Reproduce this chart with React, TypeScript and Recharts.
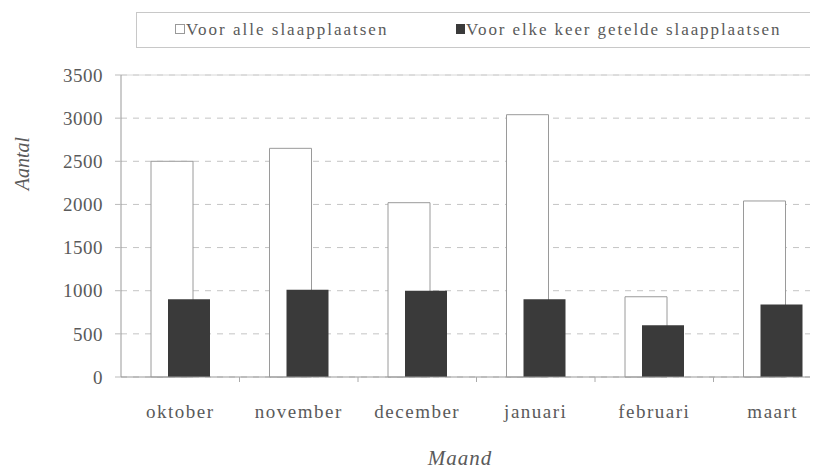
import React from 'react';
import { BarChart, Bar, XAxis, YAxis, CartesianGrid, ReferenceLine } from 'recharts';

const categories = ['oktober', 'november', 'december', 'januari', 'februari', 'maart'];
const alleValues = [2500, 2650, 2020, 3040, 930, 2040];
const elkeValues = [900, 1010, 1000, 900, 600, 840];
const yTicks = [0, 500, 1000, 1500, 2000, 2500, 3000, 3500];
const seriesNames = ['Voor alle slaapplaatsen', 'Voor elke keer getelde slaapplaatsen'];
const xTitle = 'Maand';
const yTitle = 'Aantal';

const data = categories.map((c, i) => ({ name: c, alle: alleValues[i], elke: elkeValues[i] }));

const CHART_W = 840;
const CHART_H = 467;
const Y_W = 113;
const M_RIGHT = 16;
const BAND = (CHART_W - Y_W - M_RIGHT) / categories.length;
const FONT = '"Liberation Serif", "Times New Roman", serif';
const TXT = '#5a5a5a';

const XTick = (props: any) => {
  const { x, y, payload } = props;
  return (
    <g>
      <line x1={x + BAND / 2} x2={x + BAND / 2} y1={y - 8} y2={y - 3} stroke="#aaa" />
      <text x={x} y={y + 33} textAnchor="middle" fontFamily={FONT} fontSize={19} fill={TXT} letterSpacing={1.5}>
        {payload.value}
      </text>
    </g>
  );
};

export default function App() {
  return (
    <div style={{ position: 'relative', width: 810, height: CHART_H, marginBottom: -8, overflow: 'hidden', background: '#fff' }}>
      <BarChart
        width={CHART_W}
        height={CHART_H}
        data={data}
        margin={{ top: 67, right: M_RIGHT, left: 0, bottom: 68 }}
        barGap={-25}
      >
        <CartesianGrid vertical={false} stroke="#c4c4c4" strokeDasharray="6 6" />
        <ReferenceLine y={3500} stroke="#d8d8d8" />
        <XAxis
          dataKey="name"
          height={30}
          axisLine={{ stroke: '#999' }}
          tickLine={false}
          tick={<XTick />}
          interval={0}
        />
        <YAxis
          width={Y_W}
          domain={[0, 3500]}
          ticks={yTicks}
          axisLine={{ stroke: '#999' }}
          tickLine={{ stroke: '#bbb' }}
          tickSize={6}
          tickMargin={12}
          tick={{ fontFamily: FONT, fontSize: 19, fill: TXT, letterSpacing: 0.5 }}
        />
        <Bar dataKey="alle" name={seriesNames[0]} fill="#ffffff" stroke="#9a9a9a" strokeWidth={1} barSize={42} isAnimationActive={false} />
        <Bar dataKey="elke" name={seriesNames[1]} fill="#3a3a3a" barSize={42} isAnimationActive={false} />
      </BarChart>

      <div
        style={{
          position: 'absolute', left: 128, top: 4, width: 720, height: 36,
          border: '1px solid #c8c8c8', boxSizing: 'border-box',
          fontFamily: FONT, fontSize: 17, color: TXT,
        }}
      >
        <div style={{ position: 'absolute', left: 38, top: 7, whiteSpace: 'nowrap', letterSpacing: 2 }}>
          <span style={{ display: 'inline-block', width: 8, height: 8, border: '1px solid #999', marginRight: 1, verticalAlign: 'middle', position: 'relative', top: -2 }} />
          {seriesNames[0]}
        </div>
        <div style={{ position: 'absolute', left: 319, top: 7, whiteSpace: 'nowrap', letterSpacing: 1.9 }}>
          <span style={{ display: 'inline-block', width: 9, height: 10, background: '#3a3a3a', marginRight: 1, verticalAlign: 'middle', position: 'relative', top: -2 }} />
          {seriesNames[1]}
        </div>
      </div>

      <div
        style={{
          position: 'absolute', left: 14, top: 144, transform: 'rotate(-90deg)', transformOrigin: 'center',
          fontFamily: FONT, fontStyle: 'italic', fontSize: 20, color: TXT, width: 0, display: 'flex', justifyContent: 'center',
        }}
      >
        <span>{yTitle}</span>
      </div>
      <div
        style={{
          position: 'absolute', left: 452, top: 438, transform: 'translateX(-50%)',
          fontFamily: FONT, fontStyle: 'italic', fontSize: 21, color: TXT, whiteSpace: 'nowrap', letterSpacing: 1,
        }}
      >
        {xTitle}
      </div>
    </div>
  );
}
